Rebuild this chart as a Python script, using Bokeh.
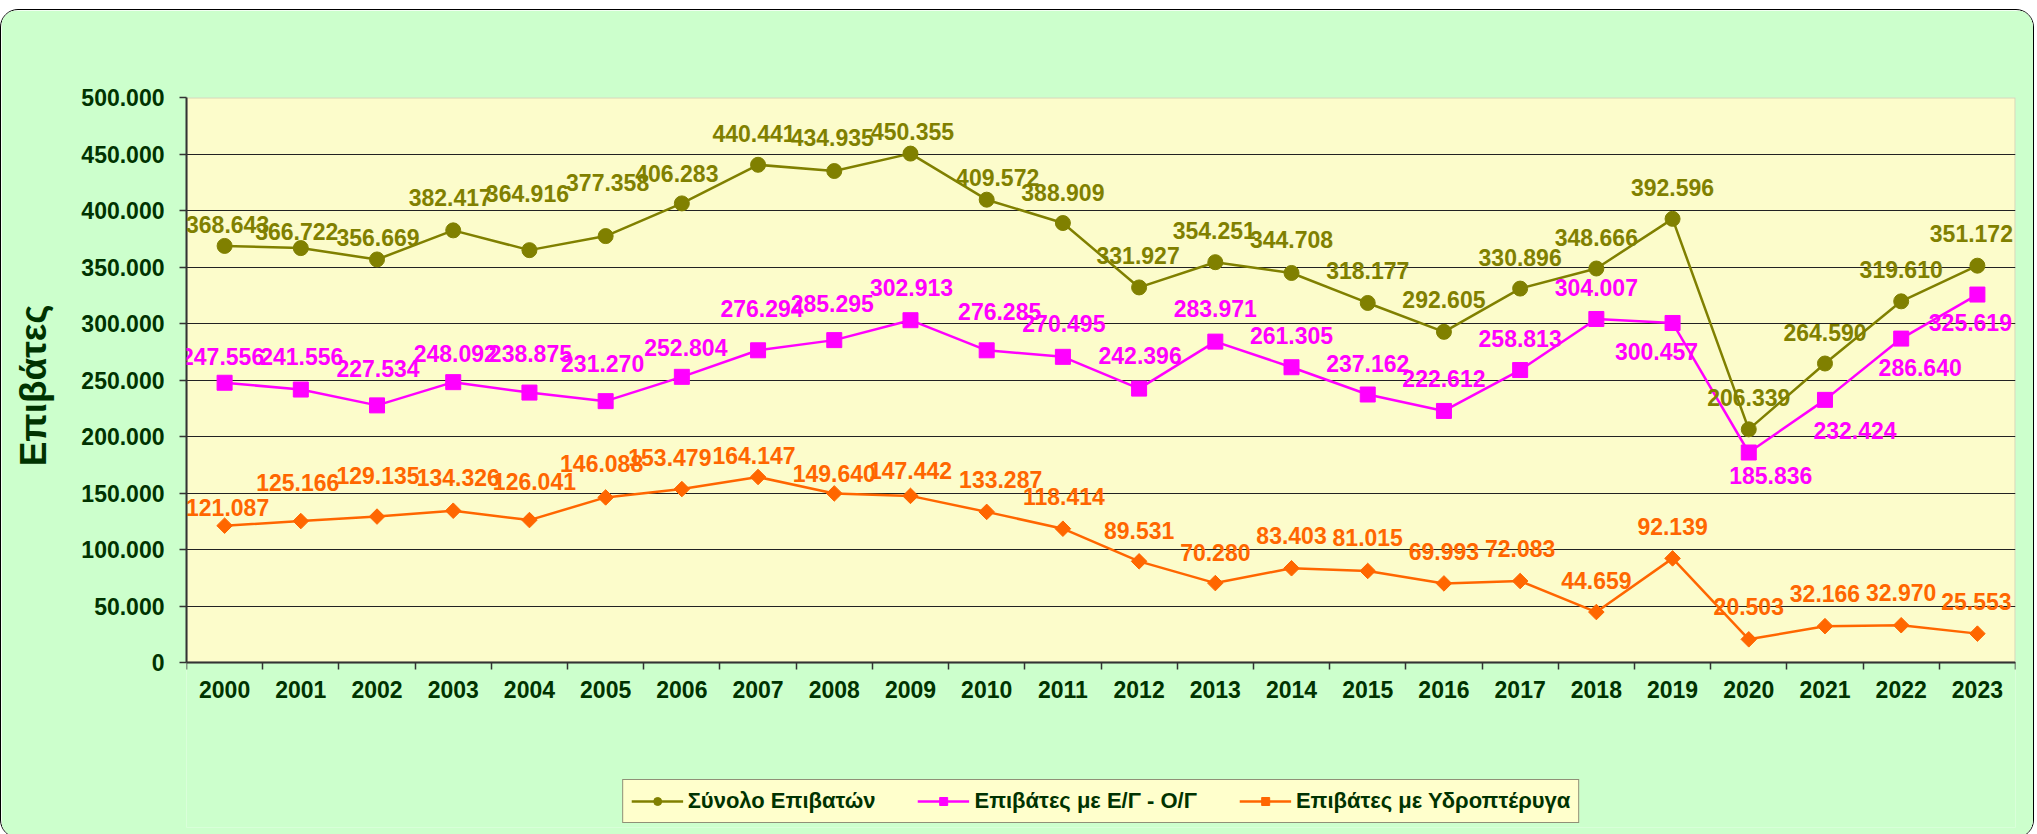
from bokeh.plotting import figure
from bokeh.models import (ColumnDataSource, LabelSet, Legend, LegendItem, FixedTicker, Range1d,
                          BoxAnnotation)
from bokeh.core.properties import value
from bokeh.embed import file_html
from bokeh.resources import INLINE
import math

# ---------------- data ----------------
years = ["2000", "2001", "2002", "2003", "2004", "2005", "2006", "2007", "2008", "2009", "2010", "2011",
         "2012", "2013", "2014", "2015", "2016", "2017", "2018", "2019", "2020", "2021", "2022", "2023"]
total = [368643, 366722, 356669, 382417, 364916, 377358, 406283, 440441, 434935, 450355, 409572, 388909,
         331927, 354251, 344708, 318177, 292605, 330896, 348666, 392596, 206339, 264590, 319610, 351172]
ferry = [247556, 241556, 227534, 248092, 238875, 231270, 252804, 276294, 285295, 302913, 276285, 270495,
         242396, 283971, 261305, 237162, 222612, 258813, 304007, 300457, 185836, 232424, 286640, 325619]
hydro = [121087, 125166, 129135, 134326, 126041, 146088, 153479, 164147, 149640, 147442, 133287, 118414,
         89531, 70280, 83403, 81015, 69993, 72083, 44659, 92139, 20503, 32166, 32970, 25553]
series_names = ["Σύνολο Επιβατών", "Επιβάτες με Ε/Γ - Ο/Γ", "Επιβάτες με Υδροπτέρυγα"]
y_title = "Επιβάτες"
y_ticks = [0, 50000, 100000, 150000, 200000, 250000, 300000, 350000, 400000, 450000, 500000]

# label placement (screen px, styling only)
total_dx = [3, -4, 1, -3, -2, 2, -5, -4, -2, 2, 11, 0, -1, -1, 0, 0, 0, 0, 0, 0, 0, 0, 0, -6]
total_dy = [21, 17, 22, 33, 57, 54, 30, 31, 34, 22, 22, 31, 32, 32, 33, 32, 32, 31, 31, 31, 32, 31, 32, 32]
ferry_dx = [-2, 1, 1, 2, 1, -3, 4, 4, -2, 1, 13, 1, 1, 0, 0, 0, 0, 0, 0, -16, 22, 30, 19, -7]
ferry_dy = [26, 33, 37, 29, 39, 38, 29, 42, 37, 33, 39, 33, 33, 33, 32, 31, 32, 32, 31, -29, -23, -31, -29, -28]
hydro_dx = [3, -3, 1, 5, 5, -4, -12, -4, 0, 0, 14, 1, 0, 0, 0, 0, 0, 0, 0, 0, 0, 0, 0, -1]
hydro_dy = [18, 39, 41, 33, 39, 34, 32, 22, 20, 25, 32, 32, 31, 31, 33, 33, 32, 33, 32, 32, 33, 33, 33, 32]


def fmt(v):
    return f"{v:,}".replace(",", ".")


FONT = "Liberation Sans"
DARK = "#003300"
OLIVE = "#808000"
MAGENTA = "#FF00FF"
ORANGE = "#FF6600"
GREEN_BG = "#CCFFCC"
PLOT_BG = "#FCFCCB"

n = len(years)
xs = [i + 0.5 for i in range(n)]

# layout sizes (px): the frame extends below the value axis so the legend can sit inside it
PLOT_PX = 565
EXTRA_PX = 165
y_lo = y_ticks[0] - (y_ticks[-1] - y_ticks[0]) * EXTRA_PX / PLOT_PX

p = figure(frame_width=1829, frame_height=PLOT_PX + EXTRA_PX, output_backend="svg", toolbar_location=None,
           x_range=Range1d(0, n), y_range=Range1d(y_lo, y_ticks[-1]),
           min_border_left=185, min_border_right=18, min_border_top=87, min_border_bottom=10)
p.border_fill_color = GREEN_BG
p.background_fill_color = GREEN_BG
p.outline_line_color = None
try:
    p.styles = {"border": "1px solid #000000", "border-radius": "18px", "overflow": "hidden",
                "margin-top": "9px"}
except Exception:
    pass

# plot area (yellow) with grey border
plot_area = BoxAnnotation(left=0, right=n, bottom=y_ticks[0], top=y_ticks[-1],
                          fill_color=PLOT_BG, fill_alpha=1.0,
                          line_color="#808080", line_width=2, level="image")
p.add_layout(plot_area)

# grid
p.xgrid.grid_line_color = None
p.ygrid.grid_line_color = "#222222"
p.ygrid.grid_line_width = 1

# y axis
p.yaxis.ticker = FixedTicker(ticks=y_ticks)
p.yaxis.bounds = (y_ticks[0], y_ticks[-1])
p.yaxis.major_label_overrides = {t: fmt(t) for t in y_ticks}
p.yaxis.major_tick_out = 7
p.yaxis.major_tick_in = 0
p.yaxis.minor_tick_out = 0
p.yaxis.minor_tick_in = 0
p.yaxis.major_tick_line_color = "#333333"
p.yaxis.major_tick_line_width = 1.5
p.yaxis.axis_line_color = "#333333"
p.yaxis.axis_line_width = 2
p.yaxis.major_label_standoff = 15
p.yaxis.major_label_text_font = FONT
p.yaxis.major_label_text_font_size = "23px"
p.yaxis.major_label_text_font_style = "bold"
p.yaxis.major_label_text_color = DARK
# the label is centred on the (extended) frame; leading no-break spaces lift it
# to the middle of the value area
p.yaxis.axis_label = "\u00a0" * 15 + y_title
p.yaxis.axis_label_text_font = FONT
p.yaxis.axis_label_text_font_size = "37px"
p.yaxis.axis_label_text_font_style = "bold"
p.yaxis.axis_label_text_color = DARK
p.yaxis.axis_label_standoff = 24

# x axis drawn at value 0: labels at centres, ticks at category boundaries
p.xaxis.fixed_location = y_ticks[0]
p.xaxis.ticker = FixedTicker(ticks=xs, minor_ticks=list(range(n + 1)))
p.xaxis.major_label_overrides = {x: y for x, y in zip(xs, years)}
p.xaxis.major_tick_line_color = None
p.xaxis.major_tick_out = 7
p.xaxis.major_tick_in = 0
p.xaxis.minor_tick_out = 7
p.xaxis.minor_tick_in = 0
p.xaxis.minor_tick_line_color = "#333333"
p.xaxis.minor_tick_line_width = 1.5
p.xaxis.axis_line_color = "#333333"
p.xaxis.axis_line_width = 2
p.xaxis.major_label_standoff = 11
p.xaxis.major_label_text_font = FONT
p.xaxis.major_label_text_font_size = "23px"
p.xaxis.major_label_text_font_style = "bold"
p.xaxis.major_label_text_color = DARK

items = []
specs = [
    (total, OLIVE, "circle", 15, 0, total_dx, total_dy),
    (ferry, MAGENTA, "square", 15, 0, ferry_dx, ferry_dy),
    (hydro, ORANGE, "square", 11, math.pi / 4, hydro_dx, hydro_dy),
]
for name, (vals, col, marker, size, ang, dx, dy) in zip(series_names, specs):
    src = ColumnDataSource(dict(x=xs, y=vals, t=[fmt(v) for v in vals], dx=dx, dy=dy))
    lr = p.line("x", "y", source=src, line_color=col, line_width=2.5)
    sr = p.scatter("x", "y", source=src, marker=marker, size=size, angle=ang,
                   fill_color=col, line_color=col)
    lbl = LabelSet(x="x", y="y", text="t", source=src, x_offset="dx", y_offset="dy",
                   text_align="center", text_baseline="middle", text_color=col,
                   text_font=value(FONT), text_font_size="23px", text_font_style="bold")
    p.add_layout(lbl)
    items.append(LegendItem(label=name, renderers=[lr, sr]))

legend = Legend(items=items, orientation="horizontal", location="bottom_center",
                background_fill_color="#FFFFCC", background_fill_alpha=1.0,
                border_line_color="#222222", border_line_width=1,
                label_text_font=FONT, label_text_font_size="22px", label_text_font_style="bold",
                label_text_color=DARK, glyph_width=52, glyph_height=20, label_standoff=5,
                spacing=42, padding=8, margin=4)
p.add_layout(legend)

open("out.html", "w").write(file_html(p, INLINE))
